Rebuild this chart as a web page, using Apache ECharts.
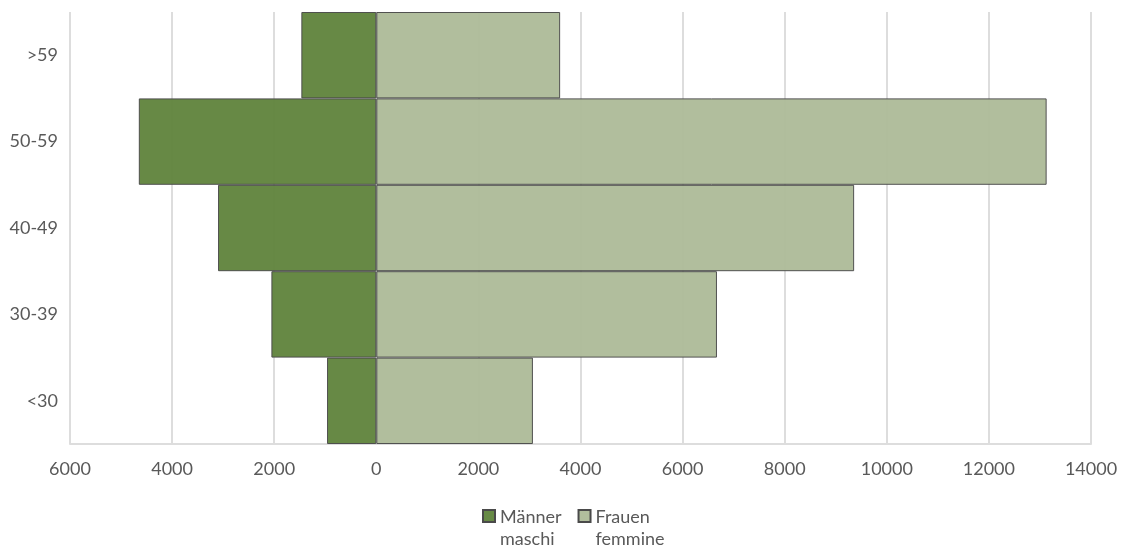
<!DOCTYPE html>
<html>
<head>
<meta charset="utf-8">
<script src="https://cdn.jsdelivr.net/npm/echarts@6/dist/echarts.min.js"></script>
<style>
html,body{margin:0;padding:0;background:#fff;}
#c{width:1125px;height:549px;}
</style>
</head>
<body>
<div id="c"></div>
<script>
var categories = ['<30', '30-39', '40-49', '50-59', '>59'];
var maleValues = [965, 2055, 3100, 4652, 1468];
var femaleValues = [3068, 6673, 9360, 13131, 3601];
var seriesNames = ['Männer\nmaschi', 'Frauen\nfemmine'];
var xMin = -6000, xMax = 14000, xInterval = 2000;

var chart = echarts.init(document.getElementById('c'));
var font = 'Lato, "Noto Sans", sans-serif';
var iconPath = 'path://M0,0L12,0L12,12L0,12Z M12,36L12,36';
chart.setOption({
  animation: false,
  textStyle: { fontFamily: font },
  grid: { left: 70, right: 34, top: 12, bottom: 105, containLabel: false },
  xAxis: {
    type: 'value',
    min: xMin, max: xMax, interval: xInterval,
    axisLine: { show: true, lineStyle: { color: '#dddddd', width: 2 } },
    axisTick: { show: false },
    splitLine: { show: true, lineStyle: { color: '#dddddd', width: 2 } },
    axisLabel: {
      color: '#595959', fontSize: 18, fontFamily: font, margin: 16,
      formatter: function (v) { return String(Math.abs(v)); }
    }
  },
  yAxis: {
    type: 'category',
    data: categories,
    axisLine: { show: false },
    axisTick: { show: false },
    splitLine: { show: false },
    axisLabel: { color: '#595959', fontSize: 18, fontFamily: font, margin: 12 }
  },
  legend: {
    left: 482, top: 506, padding: 0,
    itemWidth: 12, itemHeight: 36, itemGap: 16,
    textStyle: { color: '#595959', fontSize: 18, fontFamily: font, lineHeight: 22 },
    data: [
      { name: seriesNames[0], icon: iconPath, itemStyle: { color: '#678a45', opacity: 1 } },
      { name: seriesNames[1], icon: iconPath, itemStyle: { color: '#b1be9d', opacity: 1 } }
    ]
  },
  series: [
    {
      name: seriesNames[0], type: 'bar', stack: 'pop',
      barCategoryGap: '0%',
      data: maleValues.map(function (v) { return -v; }),
      itemStyle: { color: '#5f833b', borderColor: '#4a4a4a', borderWidth: 1, opacity: 0.95 }
    },
    {
      name: seriesNames[1], type: 'bar', stack: 'pop',
      barCategoryGap: '0%',
      data: femaleValues,
      itemStyle: { color: '#adbb98', borderColor: '#4a4a4a', borderWidth: 1, opacity: 0.95 }
    }
  ]
});
</script>
</body>
</html>
